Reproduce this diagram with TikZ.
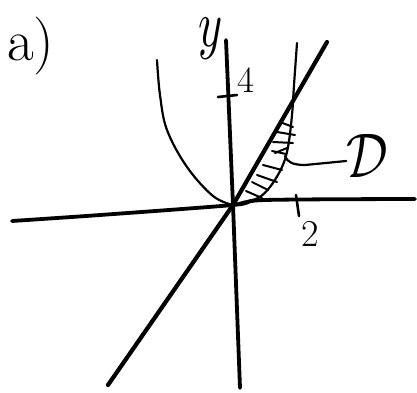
\documentclass[tikz,border=0pt]{standalone}
\usepackage{graphicx}
\begin{document}
\begin{tikzpicture}[x=1pt,y=-1pt,
  axis/.style={line width=3.8pt,line cap=round,line join=round},
  curve/.style={line width=2.2pt,line cap=round},
  hatch/.style={line width=2pt,line cap=round},
  tick/.style={line width=2.6pt,line cap=round},
  lbl/.style={inner sep=0pt,outer sep=0pt}]
\useasboundingbox (0,0) rectangle (417,392);
\coordinate (O) at (233,205);
% axes
\draw[axis] plot[smooth,tension=0.5] coordinates {(12,221) (100,215) (O) (265,200) (415,199)};
\draw[axis] (226,40) -- (O) -- (240,388);
% line y = 2x
\coordinate (Lb) at (108,385);
\coordinate (Lt) at (327,42);
\draw[axis,line width=4.2pt] (Lb) -- (O) -- (Lt);
% parabola
\draw[curve] plot[smooth,tension=0.6] coordinates {(157,60) (160,95) (167,130) (187,167) (213,196) (O)};
\draw[curve] plot[smooth,tension=0.6] coordinates {(O) (243,202) (258,198) (270,187) (282,167) (288,147) (292,115) (294,85) (297,43)};
% hatching of D
\foreach \a/\b in {{(280,122)/(293,127)},{(277,132)/(295,135)},{(273,142)/(293,143)},{(272,151)/(286,154)},{(275,153)/(287,148)},{(263,165)/(282,170)},{(257,175)/(277,182)},{(252,182)/(268,190)},{(246,191)/(262,198)}}
  \draw[hatch] \a -- \b;
% ticks
\draw[tick] (218,97) -- (237,95);
\draw[tick] (296,195) -- (299,216);
% labels
\node[lbl,anchor=base west,font=\fontsize{58}{58}\selectfont] (a) at (7,60) {a)};
\node[lbl] (y) at (211,39) {\scalebox{4.6}[6.6]{$y$}};
\node[lbl,font=\fontsize{37}{37}\selectfont] (four) at (246,80) {4};
\node[lbl,font=\fontsize{38}{38}\selectfont] (two) at (310,234) {2};
\node[lbl] (D) at (367,156) {\scalebox{5.2}[6.3]{$\mathcal{D}$}};
% leader
\coordinate (Dend) at (285,156);
\draw[curve] (D.west) ++(0,5) -- (305,165) .. controls (293,165) and (287,162) .. (Dend);
\end{tikzpicture}
\end{document}
